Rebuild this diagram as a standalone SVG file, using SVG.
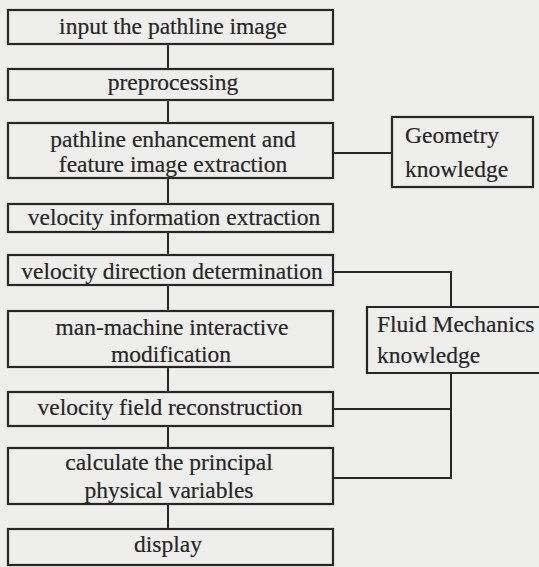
<svg xmlns="http://www.w3.org/2000/svg" width="539" height="567" viewBox="0 0 539 567">
<style>
.box{fill:none;stroke:#262626;stroke-width:2.2}
.ln{fill:none;stroke:#262626;stroke-width:2}
text{font-family:"Liberation Serif","Times New Roman",serif;font-size:23.5px;fill:#262626;stroke:#262626;stroke-width:0.2}
.c{text-anchor:middle}
</style>
<rect x="0" y="0" width="539" height="567" fill="#eeeeec"/>
<g id="connectors">
<line class="ln" x1="168" y1="44" x2="168" y2="69"/>
<line class="ln" x1="168" y1="100" x2="168" y2="123"/>
<line class="ln" x1="168" y1="178" x2="168" y2="204"/>
<line class="ln" x1="168" y1="232" x2="168" y2="255"/>
<line class="ln" x1="168" y1="285" x2="168" y2="311"/>
<line class="ln" x1="168" y1="367" x2="168" y2="392"/>
<line class="ln" x1="168" y1="426" x2="168" y2="448"/>
<line class="ln" x1="168" y1="504" x2="168" y2="529"/>
<line class="ln" x1="333" y1="153" x2="392" y2="153"/>
<polyline class="ln" points="333,272 451,272 451,307"/>
<polyline class="ln" points="451,373 451,478 333,478"/>
<line class="ln" x1="333" y1="409" x2="451" y2="409"/>
</g>
<g id="n1"><rect class="box" x="8" y="10" width="325" height="34"/><text class="c" x="173" y="34">input the pathline image</text></g>
<g id="n2"><rect class="box" x="8" y="69" width="325" height="31"/><text class="c" x="173" y="90">preprocessing</text></g>
<g id="n3"><rect class="box" x="8" y="123" width="325" height="55"/><text class="c" x="173" y="147">pathline enhancement and</text><text class="c" x="173" y="172">feature image extraction</text></g>
<g id="n4"><rect class="box" x="8" y="204" width="325" height="28"/><text class="c" x="174" y="225">velocity information extraction</text></g>
<g id="n5"><rect class="box" x="8" y="255" width="325" height="30"/><text class="c" x="172" y="279">velocity direction determination</text></g>
<g id="n6"><rect class="box" x="8" y="311" width="325" height="56"/><text class="c" x="172" y="335">man-machine interactive</text><text class="c" x="171" y="362">modification</text></g>
<g id="n7"><rect class="box" x="8" y="392" width="325" height="34"/><text class="c" x="170" y="415">velocity field reconstruction</text></g>
<g id="n8"><rect class="box" x="8" y="448" width="325" height="56"/><text class="c" x="169" y="470">calculate the principal</text><text class="c" x="169" y="498">physical variables</text></g>
<g id="n9"><rect class="box" x="8" y="529" width="325" height="36"/><text class="c" x="168" y="552">display</text></g>
<g id="geometry"><rect class="box" x="392" y="117" width="141" height="70"/><text x="405" y="143">Geometry</text><text x="405" y="177">knowledge</text></g>
<g id="fluid"><polyline class="box" points="545,307 367,307 367,373 545,373"/><text x="377" y="332">Fluid Mechanics</text><text x="377" y="363">knowledge</text></g>
</svg>
